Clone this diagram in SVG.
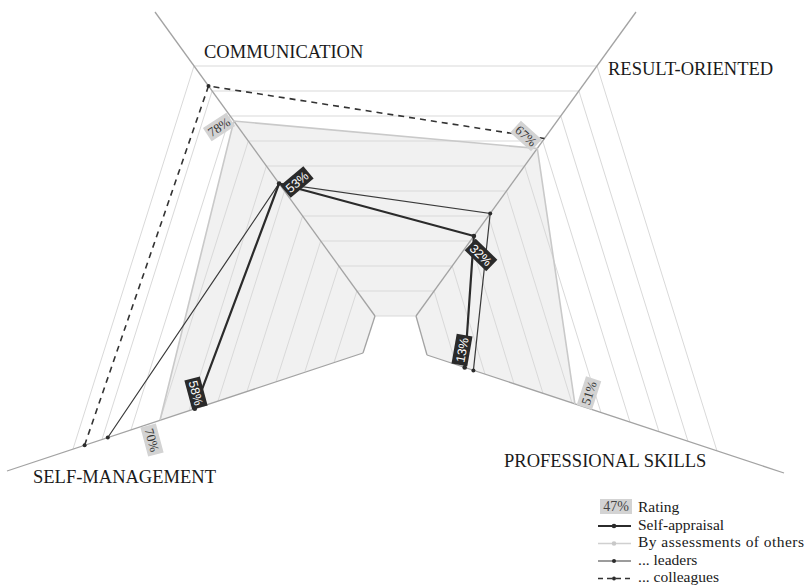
<svg xmlns="http://www.w3.org/2000/svg" width="809" height="587" viewBox="0 0 809 587">
<style>
.axis{stroke:#a3a3a3;stroke-width:1.3;fill:none}
.grid{stroke:#d9d9d9;stroke-width:1;fill:none}
.axlab{font-family:"Liberation Serif","DejaVu Serif","Times New Roman",serif;font-size:18.5px;fill:#1a1a1a}
.leg{font-family:"Liberation Serif","DejaVu Serif","Times New Roman",serif;font-size:15.5px;fill:#1a1a1a}
.self{stroke:#2b2b2b;stroke-width:2.2;fill:none;stroke-linejoin:round}
.lead{stroke:#3a3a3a;stroke-width:1.2;fill:none}
.coll{stroke:#333;stroke-width:1.6;fill:none;stroke-dasharray:6 5}
.oth{stroke:#c9c9c9;stroke-width:1.6;fill:none}
.dot{fill:#2b2b2b}
.rl rect{fill:#d3d3d3}
.rl text{font-family:"Liberation Serif","DejaVu Serif",serif;font-size:13px;fill:#333;text-anchor:middle}
.rd rect{fill:#2a2a2a}
.rd text{font-family:"Liberation Sans",Arial,sans-serif;font-size:12.5px;fill:#fff;text-anchor:middle}
</style>

<g id="area">
<polygon points="160,420.2 233.8,121 537.3,148.5 574.9,404 427,355 416,316 375,316 363,353" fill="#f1f1f1" stroke="none"/>
</g>

<g id="grid">
<polyline class="grid" points="334,362.6 356.9,291 434.1,291 456,364.6"/>
<polyline class="grid" points="305,371.2 338.8,266 452.2,266 485,374.2"/>
<polyline class="grid" points="276,381.8 320.7,241 470.3,241 514,383.8"/>
<polyline class="grid" points="247,391.4 302.6,216 488.4,216 543,393.4"/>
<polyline class="grid" points="218,401 284.5,191 506.5,191 572,403"/>
<polyline class="grid" points="189,410.6 266.4,166 524.6,166 601,412.6"/>
<polyline class="grid" points="160,420.2 248.3,141 542.7,141 630,422.2"/>
<polyline class="grid" points="131,429.8 230.2,116 560.8,116 659,431.8"/>
<polyline class="grid" points="102,439.4 212.1,91 578.9,91 688,441.4"/>
<polyline class="grid" points="73,449 194,66 597,66 717,451"/>
<line class="grid" x1="375" y1="316" x2="416" y2="316" stroke="#c4c4c4"/>
</g>

<g id="axes">
<line class="axis" x1="375" y1="316" x2="155" y2="12"/>
<line class="axis" x1="416" y1="316" x2="636" y2="12"/>
<line class="axis" x1="363" y1="353" x2="7" y2="471"/>
<line class="axis" x1="427" y1="355" x2="784" y2="473"/>
<line class="axis" x1="375" y1="316" x2="363" y2="353"/>
<line class="axis" x1="416" y1="316" x2="427" y2="355"/>
</g>

<g id="connectors">
<polyline class="oth" points="160,420.2 233.8,121 537.3,148.5 574.9,404"/>
<polyline class="coll" points="84.6,445.2 208.5,86 544.5,138.5"/>
<polyline class="lead" points="107.8,437.5 279.1,183.5 490.2,213.5 473.4,370.4"/>
<polyline class="self" points="194.8,408.7 279.1,183.5 473.9,236 464.7,367.5"/>
<g class="dot">
<circle cx="84.6" cy="445.2" r="2"/><circle cx="208.5" cy="86" r="2"/>
<circle cx="107.8" cy="437.5" r="2"/><circle cx="490.2" cy="213.5" r="2"/><circle cx="473.4" cy="370.4" r="2"/>
<circle cx="194.8" cy="408.7" r="2.3"/><circle cx="279.1" cy="183.5" r="2.3"/><circle cx="473.9" cy="236" r="2.3"/><circle cx="464.7" cy="367.5" r="2.3"/>
</g>
</g>

<g id="labels">
<g id="r78" class="rl" transform="translate(219,127) rotate(-33)"><rect x="-14" y="-8" width="28" height="16"/><text y="4.5">78%</text></g>
<g id="r67" class="rl" transform="translate(526,136) rotate(42)"><rect x="-14" y="-8" width="28" height="16"/><text y="4.5">67%</text></g>
<g id="r70" class="rl" transform="translate(152,440) rotate(75)"><rect x="-15" y="-8" width="30" height="16"/><text y="4.5">70%</text></g>
<g id="r51" class="rl" transform="translate(589,393) rotate(-72)"><rect x="-15" y="-8" width="30" height="16"/><text y="4.5">51%</text></g>
<g id="r53" class="rd" transform="translate(297,182) rotate(-40)"><rect x="-15" y="-8" width="30" height="16"/><text y="4.5">53%</text></g>
<g id="r32" class="rd" transform="translate(481,255) rotate(44)"><rect x="-15" y="-8" width="30" height="16"/><text y="4.5">32%</text></g>
<g id="r58" class="rd" transform="translate(196,393) rotate(75)"><rect x="-15" y="-8" width="30" height="16"/><text y="4.5">58%</text></g>
<g id="r13" class="rd" transform="translate(462,350) rotate(-80)"><rect x="-15" y="-8" width="30" height="16"/><text y="4.5">13%</text></g>
</g>

<g id="axis-labels">
<text class="axlab" x="204" y="58">COMMUNICATION</text>
<text class="axlab" x="608" y="75">RESULT-ORIENTED</text>
<text class="axlab" x="33" y="483">SELF-MANAGEMENT</text>
<text class="axlab" x="504" y="467">PROFESSIONAL SKILLS</text>
</g>

<g id="legend">
<rect x="600" y="499" width="32" height="15" fill="#d3d3d3"/>
<text x="616" y="511" font-family="Liberation Serif, DejaVu Serif, serif" font-size="14" fill="#444" text-anchor="middle">47%</text>
<text class="leg" x="638" y="512">Rating</text>
<line x1="598" y1="526" x2="631" y2="526" stroke="#2b2b2b" stroke-width="2.2"/><circle cx="614" cy="526" r="2.3" fill="#2b2b2b"/>
<text class="leg" x="638" y="529.5">Self-appraisal</text>
<line x1="598" y1="543.5" x2="631" y2="543.5" stroke="#d0d0d0" stroke-width="1.6"/><circle cx="614" cy="543.5" r="2.3" fill="#c8c8c8"/>
<text class="leg" x="638" y="547" textLength="166" lengthAdjust="spacing">By assessments of others</text>
<line x1="598" y1="561" x2="631" y2="561" stroke="#3a3a3a" stroke-width="1.2"/><circle cx="614" cy="561" r="2" fill="#2b2b2b"/>
<text class="leg" x="638" y="564.5">... leaders</text>
<line x1="598" y1="578.5" x2="631" y2="578.5" stroke="#333" stroke-width="1.5" stroke-dasharray="5 4"/><circle cx="614" cy="578.5" r="2" fill="#2b2b2b"/>
<text class="leg" x="638" y="582">... colleagues</text>
</g>
</svg>
